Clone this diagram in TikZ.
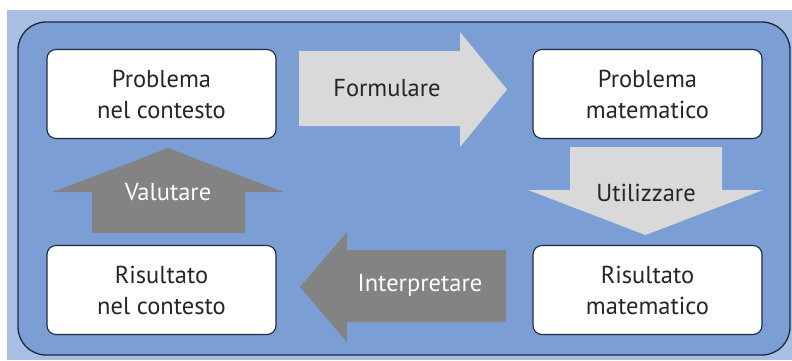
\documentclass[tikz,border=0pt]{standalone}
\usepackage{fontspec}
\setmainfont{PT Sans}
\definecolor{outerblue}{HTML}{A8BFE3}
\definecolor{innerblue}{HTML}{7B9FD5}
\definecolor{navy}{HTML}{1E2940}
\definecolor{lightarrow}{HTML}{D9D9D9}
\definecolor{darkarrow}{HTML}{838383}
\definecolor{txt}{HTML}{262626}
\begin{document}
\begin{tikzpicture}[x=1pt,y=-1pt,
  stagebox/.style={draw=navy,line width=1.1pt,fill=white,rounded corners=9pt,
    minimum width=229pt,minimum height=89pt,inner sep=0pt,
    font=\fontsize{24.5}{31}\selectfont,text=txt,align=center},
  lightlabel/.style={font=\fontsize{24.5}{31}\selectfont,text=txt,inner sep=0pt},
  darklabel/.style={font=\fontsize{24.5}{31}\selectfont,text=white,inner sep=0pt}]
\useasboundingbox (0,0) rectangle (792,360);
\fill[white] (0,0) rectangle (792,360);
\fill[outerblue] (7,10) rectangle (792,360);
\draw[navy,line width=1.3pt,fill=innerblue,rounded corners=28pt] (18,22) rectangle (790,355);
% block arrows
\fill[lightarrow] (299,51) -- (460,51) -- (460,32) -- (507,89.5) -- (460,147) -- (460,126) -- (299,126) -- cycle;
\fill[lightarrow] (570,147) -- (722,147) -- (722,190) -- (763,190) -- (645.5,235) -- (528,190) -- (570,190) -- cycle;
\fill[darkarrow] (92,233) -- (245,233) -- (245,192) -- (283,192) -- (168,148) -- (53,192) -- (92,192) -- cycle;
\fill[darkarrow] (506,250) -- (347,250) -- (347,232) -- (300,287) -- (347,342) -- (347,322) -- (506,322) -- cycle;
% boxes
\node[stagebox] (pc) at (161.5,94) {Problema\\nel contesto};
\node[stagebox] (pm) at (647.5,94) {Problema\\matematico};
\node[stagebox] (rc) at (161.5,290) {Risultato\\nel contesto};
\node[stagebox] (rm) at (647.5,290) {Risultato\\matematico};
% labels
\node[lightlabel] (formulare) at (387,88) {Formulare};
\node[lightlabel] (utilizzare) at (646,193) {Utilizzare};
\node[darklabel] (valutare) at (168,192) {Valutare};
\node[darklabel] (interpretare) at (420,285) {Interpretare};
\end{tikzpicture}
\end{document}
